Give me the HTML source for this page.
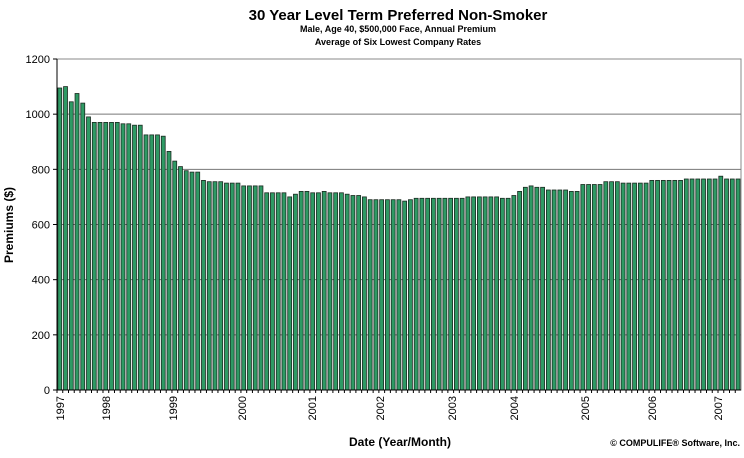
<!DOCTYPE html>
<html><head><meta charset="utf-8"><style>
html,body{margin:0;padding:0;background:#fff;}
svg{display:block;font-family:"Liberation Sans",Arial,sans-serif;}
</style></head><body>
<svg id="c" width="744" height="458" xmlns="http://www.w3.org/2000/svg">
<text x="398" y="20" text-anchor="middle" font-size="15" font-weight="bold">30 Year Level Term Preferred Non-Smoker</text>
<text x="398" y="32" text-anchor="middle" font-size="9" font-weight="bold">Male, Age 40, $500,000 Face, Annual Premium</text>
<text x="398" y="45" text-anchor="middle" font-size="9" font-weight="bold">Average of Six Lowest Company Rates</text>
<g id="g"></g>
<text transform="translate(13,225) rotate(-90)" text-anchor="middle" font-size="12" font-weight="bold">Premiums ($)</text>
<text x="400" y="446" text-anchor="middle" font-size="12" font-weight="bold">Date (Year/Month)</text>
<text x="740" y="446" text-anchor="end" font-size="9" font-weight="bold">© COMPULIFE® Software, Inc.</text>
</svg>
<script>
var v=[1095,1100,1045,1075,1040,990,970,970,970,970,970,965,965,960,960,925,925,925,920,865,830,810,795,790,790,760,755,755,755,750,750,750,740,740,740,740,715,715,715,715,700,710,720,720,715,715,720,715,715,715,710,705,705,700,690,690,690,690,690,690,685,690,695,695,695,695,695,695,695,695,695,700,700,700,700,700,700,695,695,705,720,735,740,735,735,725,725,725,725,720,720,745,745,745,745,755,755,755,750,750,750,750,750,760,760,760,760,760,760,765,765,765,765,765,765,775,765,765,765];
var L=57,R=741,T=59,B=390,s=(B-T)/1200,h='';
h+='<rect x="'+L+'" y="'+T+'" width="'+(R-L)+'" height="'+(B-T)+'" fill="#fff" stroke="#888"/>';
[200,400,600,800,1000].forEach(function(k){var y=B-k*s;h+='<line x1="'+L+'" x2="'+R+'" y1="'+y+'" y2="'+y+'" stroke="#777"/>';});
for(var k=0;k<=1200;k+=200){var y=B-k*s;h+='<line x1="'+(L-4)+'" x2="'+L+'" y1="'+y+'" y2="'+y+'" stroke="#000"/><text x="'+(L-7)+'" y="'+(y+4)+'" text-anchor="end" font-size="11">'+k+'</text>';}
var p=(R-L)/v.length;
for(var i=0;i<v.length;i++){var x=L+i*p+0.8,y=B-v[i]*s;h+='<rect x="'+x.toFixed(2)+'" y="'+y.toFixed(1)+'" width="'+(p-1.8).toFixed(2)+'" height="'+(B-y).toFixed(1)+'" fill="#2e9a64" stroke="#1a2a20" stroke-width="0.8"/>';h+='<line x1="'+(L+i*p)+'" x2="'+(L+i*p)+'" y1="'+B+'" y2="'+(B+3)+'" stroke="#000"/>';}
h+='<line x1="'+L+'" x2="'+R+'" y1="'+B+'" y2="'+B+'" stroke="#000"/><line x1="'+L+'" x2="'+L+'" y1="'+T+'" y2="'+B+'" stroke="#000"/>';
var yl=[[1997,60],[1998,106],[1999,173],[2000,242],[2001,312],[2002,380],[2003,452],[2004,514],[2005,585],[2006,652],[2007,718]];
yl.forEach(function(a){h+='<text transform="translate('+(a[1]+4)+',396) rotate(-90)" text-anchor="end" font-size="11">'+a[0]+'</text>';});
document.getElementById('g').innerHTML=h;
</script>
</body></html>
